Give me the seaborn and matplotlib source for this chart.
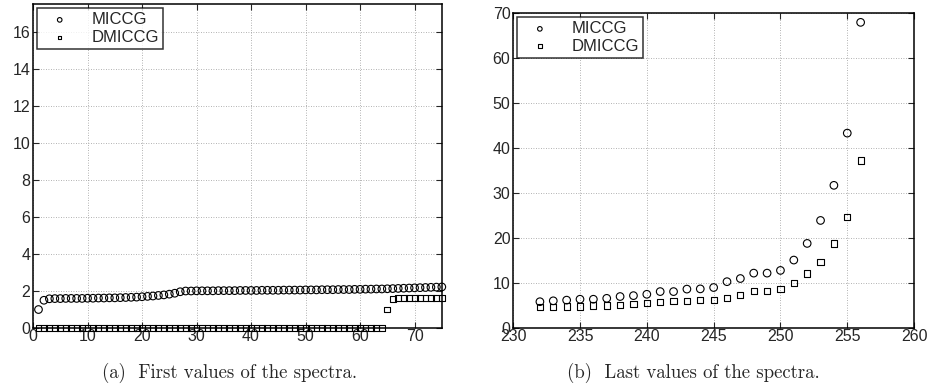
import numpy as np
import pandas as pd
import matplotlib
matplotlib.use("Agg")
import matplotlib.pyplot as plt
import seaborn as sns

# (a) first values of the spectra, index 1..75
first_idx = list(range(1, 76))
first_miccg = [1.00, 1.50, 1.58, 1.59, 1.59, 1.60, 1.60, 1.60, 1.60, 1.61,
               1.61, 1.62, 1.62, 1.63, 1.63, 1.64, 1.65, 1.66, 1.67, 1.69,
               1.71, 1.73, 1.76, 1.79, 1.83, 1.88, 1.96, 2.00, 2.00, 2.01,
               2.01, 2.01, 2.01, 2.02, 2.02, 2.02, 2.02, 2.03, 2.03, 2.03,
               2.03, 2.04, 2.04, 2.04, 2.04, 2.05, 2.05, 2.05, 2.05, 2.06,
               2.06, 2.06, 2.07, 2.07, 2.07, 2.08, 2.08, 2.08, 2.09, 2.09,
               2.10, 2.10, 2.11, 2.11, 2.12, 2.13, 2.14, 2.15, 2.16, 2.17,
               2.18, 2.19, 2.20, 2.21, 2.22]
first_dmiccg = [0.0] * 64 + [1.00, 1.57, 1.61, 1.62, 1.62, 1.62, 1.63,
                             1.63, 1.63, 1.64, 1.64]

# (b) last values of the spectra, index 232..256
last_idx = list(range(232, 257))
last_miccg = [5.85, 6.05, 6.2, 6.4, 6.4, 6.6, 7.0, 7.2, 7.5, 8.1,
              8.1, 8.65, 8.7, 9.0, 10.3, 11.0, 12.2, 12.2, 12.8, 15.1,
              18.8, 23.9, 31.7, 43.3, 67.9]
last_dmiccg = [4.7, 4.7, 4.8, 4.8, 5.0, 5.0, 5.2, 5.4, 5.6, 5.7,
               6.0, 6.0, 6.2, 6.2, 6.6, 7.3, 8.2, 8.3, 8.7, 10.0,
               12.1, 14.7, 18.8, 24.7, 37.2]

sns.set_style("white")
plt.rcParams['font.family'] = ['Liberation Sans', 'DejaVu Sans']

fig = plt.figure(figsize=(9.28, 3.91), dpi=100)
ax1 = fig.add_axes([0.0356, 0.161, 0.4405, 0.829])
ax2 = fig.add_axes([0.553, 0.161, 0.432, 0.806])


def draw(ax, x, a, b, s_circ, s_sq):
    df = pd.DataFrame({"x": x, "MICCG": a, "DMICCG": b})
    sns.scatterplot(data=df, x="x", y="MICCG", ax=ax, marker="o", s=s_circ,
                    facecolors="none", edgecolor="black", color="black",
                    linewidth=0.8, label="MICCG", clip_on=False, zorder=3)
    sns.scatterplot(data=df, x="x", y="DMICCG", ax=ax, marker="s", s=s_sq,
                    facecolors="none", edgecolor="black", color="black",
                    linewidth=0.8, label="DMICCG", clip_on=False, zorder=3)
    ax.set_xlabel("")
    ax.set_ylabel("")
    ax.grid(True, linestyle=(0, (1, 2)), color="#999999", linewidth=0.6)
    ax.tick_params(direction="in", length=4, width=0.8, labelsize=11.5,
                   top=True, right=True, bottom=True, left=True)
    ax.tick_params(axis="x", pad=1)
    ax.tick_params(axis="y", pad=2)
    for sp in ax.spines.values():
        sp.set_color("black")
        sp.set_linewidth(1.1)
    leg = ax.legend(loc="upper left", fontsize=12, frameon=True,
                    fancybox=False, borderpad=0.25, handletextpad=0.8,
                    borderaxespad=0.25, labelspacing=0.15, markerscale=0.6,
                    handlelength=2.2)
    leg.get_frame().set_edgecolor("black")
    leg.get_frame().set_linewidth(1.1)


draw(ax1, first_idx, first_miccg, first_dmiccg, 30, 18)
ax1.set_xlim(0, 75)
ax1.set_ylim(0, 17.5)
ax1.set_xticks(range(0, 71, 10))
ax1.set_yticks(range(0, 17, 2))

draw(ax2, last_idx, last_miccg, last_dmiccg, 30, 20)
ax2.set_xlim(230, 260)
ax2.set_ylim(0, 70)
ax2.set_xticks(range(230, 261, 5))
ax2.set_yticks(range(0, 71, 10))

fig.text(0.247, 0.045, "(a)  First values of the spectra.", ha="center",
         va="center", fontsize=13.5, family="cmr10")
fig.text(0.747, 0.045, "(b)  Last values of the spectra.", ha="center",
         va="center", fontsize=13.5, family="cmr10")

fig.savefig("out.png", dpi=100)
